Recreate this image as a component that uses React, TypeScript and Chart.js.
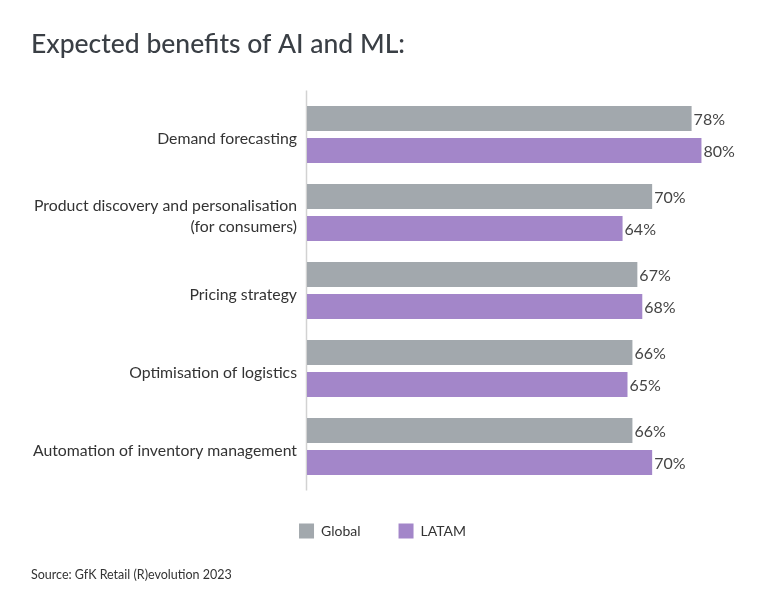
import React, { useEffect, useRef } from "react";
import { Chart, registerables } from "chart.js";

Chart.register(...registerables);

const categories: (string | string[])[] = [
  "Demand forecasting",
  ["Product discovery and personalisation", "(for consumers)"],
  "Pricing strategy",
  "Optimisation of logistics",
  "Automation of inventory management",
];
const globalValues = [78, 70, 67, 66, 66];
const latamValues = [80, 64, 68, 65, 70];
const seriesNames = ["Global", "LATAM"];
const titleText = "Expected benefits of AI and ML:";
const sourceText = "Source: GfK Retail (R)evolution 2023";

const GRAY = "#a2a8ad";
const PURPLE = "#a386c9";
const FONT = "Lato, 'Open Sans', sans-serif";

const axisLinePlugin = {
  id: "axisLine",
  beforeDatasetsDraw(chart: any) {
    const { ctx, chartArea } = chart;
    ctx.save();
    ctx.strokeStyle = "#d2d2d2";
    ctx.lineWidth = 1.5;
    ctx.beginPath();
    ctx.moveTo(chartArea.left - 0.5, chartArea.top - 5);
    ctx.lineTo(chartArea.left - 0.5, chartArea.bottom + 5);
    ctx.stroke();
    ctx.restore();
  },
};

const valueLabelPlugin = {
  id: "valueLabels",
  afterDatasetsDraw(chart: any) {
    const { ctx } = chart;
    ctx.save();
    ctx.font = `16px ${FONT}`;
    ctx.fillStyle = "#444444";
    ctx.textAlign = "left";
    ctx.textBaseline = "middle";
    chart.data.datasets.forEach((ds: any, di: number) => {
      const meta = chart.getDatasetMeta(di);
      meta.data.forEach((el: any, i: number) => {
        ctx.fillText(`${ds.data[i]}%`, el.x + 2, el.y + 1);
      });
    });
    ctx.restore();
  },
};

export default function App() {
  const ref = useRef<HTMLCanvasElement>(null);
  useEffect(() => {
    document.body.style.margin = "0";
    const chart = new Chart(ref.current!, {
      type: "bar",
      data: {
        labels: categories,
        datasets: [
          {
            label: seriesNames[0],
            data: globalValues,
            backgroundColor: GRAY,
            categoryPercentage: 0.82,
            barPercentage: 0.78,
          },
          {
            label: seriesNames[1],
            data: latamValues,
            backgroundColor: PURPLE,
            categoryPercentage: 0.82,
            barPercentage: 0.78,
          },
        ],
      },
      options: {
        indexAxis: "y",
        animation: false,
        responsive: false,
        layout: { padding: { left: 31, right: 31, top: 0, bottom: 0 } },
        scales: {
          x: { display: false, min: 0, max: 86.6 },
          y: {
            grid: { display: false, drawTicks: false },
            border: { display: false },
            ticks: {
              color: "#333333",
              font: { family: FONT, size: 15.8, lineHeight: 1.33 },
              padding: 10,
              labelOffset: 4,
            },
            afterFit(scale: any) {
              scale.width = 276;
            },
          },
        },
        plugins: {
          tooltip: { enabled: false },
          title: {
            display: true,
            text: titleText,
            align: "start",
            color: "#3a3f45",
            font: { family: FONT, size: 26.5, weight: 500, lineHeight: 1.2 },
            padding: { top: 29, bottom: 34.7 },
          },
          legend: {
            position: "bottom",
            labels: {
              boxWidth: 15,
              boxHeight: 15,
              padding: 38,
              color: "#333333",
              font: { family: FONT, size: 14 },
            },
          },
          subtitle: {
            display: true,
            position: "bottom",
            align: "start",
            text: sourceText,
            color: "#333333",
            font: { family: FONT, size: 12.5, lineHeight: 1.2 },
            padding: { top: 19, bottom: 28.5 },
          },
        },
      },
      plugins: [axisLinePlugin, valueLabelPlugin],
    } as any);
    return () => chart.destroy();
  }, []);
  return <canvas ref={ref} width={765} height={611} style={{ display: "block" }} />;
}
